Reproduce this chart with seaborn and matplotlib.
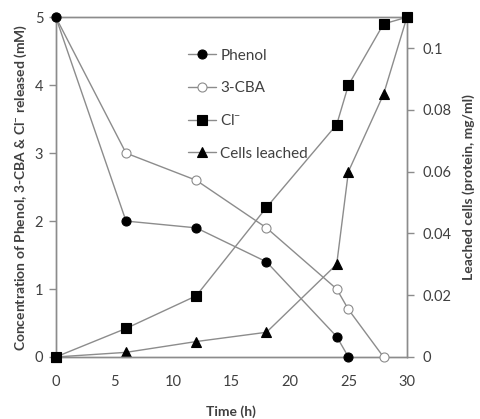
import matplotlib
matplotlib.use("Agg")
import matplotlib.pyplot as plt
import seaborn as sns
import pandas as pd

# data
phenol_t = [0, 6, 12, 18, 24, 25]
phenol = [5.0, 2.0, 1.9, 1.4, 0.3, 0.0]

cba_t = [0, 6, 12, 18, 24, 25, 28]
cba = [5.0, 3.0, 2.6, 1.9, 1.0, 0.7, 0.0]

cl_t = [0, 6, 12, 18, 24, 25, 28, 30]
cl = [0.0, 0.42, 0.9, 2.2, 3.42, 4.0, 4.9, 5.0]

cells_t = [0, 6, 12, 18, 24, 25, 28, 30]
cells = [0.0, 0.0015, 0.005, 0.008, 0.030, 0.060, 0.085, 0.110]

x_ticks = [0, 5, 10, 15, 20, 25, 30]
left_ticks = [0, 1, 2, 3, 4, 5]
right_ticks = [0, 0.02, 0.04, 0.06, 0.08, 0.1]
right_labels = ["0", "0.02", "0.04", "0.06", "0.08", "0.1"]

sns.set_style("white")
plt.rcParams["font.family"] = ["Lato", "DejaVu Sans"]
plt.rcParams["mathtext.fontset"] = "custom"
plt.rcParams["mathtext.rm"] = "Lato"
plt.rcParams["mathtext.default"] = "regular"

grey = "#8c8c8c"
txt = "#404040"

fig = plt.figure(figsize=(4.81, 4.19), dpi=100)
ax = fig.add_axes([0.116, 0.148, 0.730, 0.811])
ax2 = ax.twinx()
# keep the concentration lines on top of the leached-cells line
ax.set_zorder(ax2.get_zorder() + 1)
ax.patch.set_visible(False)

common = dict(color=grey, linewidth=1.0, markersize=6.5, markeredgewidth=0.8,
              clip_on=False)

sns.lineplot(x=phenol_t, y=phenol, ax=ax, marker="o", markerfacecolor="black",
             markeredgecolor="black", label="Phenol", legend=False, zorder=4, **common)
sns.lineplot(x=cba_t, y=cba, ax=ax, marker="o", markerfacecolor="white",
             markeredgecolor=grey, label="3-CBA", legend=False, zorder=3, **common)
sns.lineplot(x=cl_t, y=cl, ax=ax, marker="s", markerfacecolor="black",
             markeredgecolor="black", label="Cl$^{-}$", legend=False, zorder=3, **common)
sns.lineplot(x=cells_t, y=cells, ax=ax2, marker="^", markerfacecolor="black",
             markeredgecolor="black", label="Cells leached", legend=False, **common)

ax.set_xlim(0, 30)
ax.set_ylim(0, 5)
ax2.set_ylim(0, 0.11)
ax.set_xticks(x_ticks)
ax.set_yticks(left_ticks)
ax2.set_yticks(right_ticks)
ax2.set_yticklabels(right_labels)

for a in (ax, ax2):
    for s in a.spines.values():
        s.set_color(grey)
        s.set_linewidth(1.0)
    a.tick_params(colors=grey, labelcolor=txt, labelsize=10.5, direction="out",
                  length=5, width=1)
ax.tick_params(axis="x", pad=8)
ax.tick_params(axis="y", pad=4)
ax2.tick_params(axis="y", pad=6)

ax.set_xlabel("Time (h)", fontsize=10, fontweight="bold", color=txt, labelpad=12)
ax.set_ylabel("Concentration of Phenol, 3-CBA & Cl$^{-}$ released (mM)",
              fontsize=10, fontweight="bold", color=txt, labelpad=4)
ax2.set_ylabel("Leached cells (protein, mg/ml)", fontsize=10, fontweight="bold",
               color=txt, labelpad=8)

h1, l1 = ax.get_legend_handles_labels()
h2, l2 = ax2.get_legend_handles_labels()
leg = ax.legend(h1 + h2, l1 + l2, loc="upper left", bbox_to_anchor=(0.36, 0.925),
                frameon=False, fontsize=11, labelspacing=1.2, handlelength=1.8,
                handletextpad=0.3, borderaxespad=0)
for t in leg.get_texts():
    t.set_color(txt)

fig.savefig("out.png", dpi=100)
